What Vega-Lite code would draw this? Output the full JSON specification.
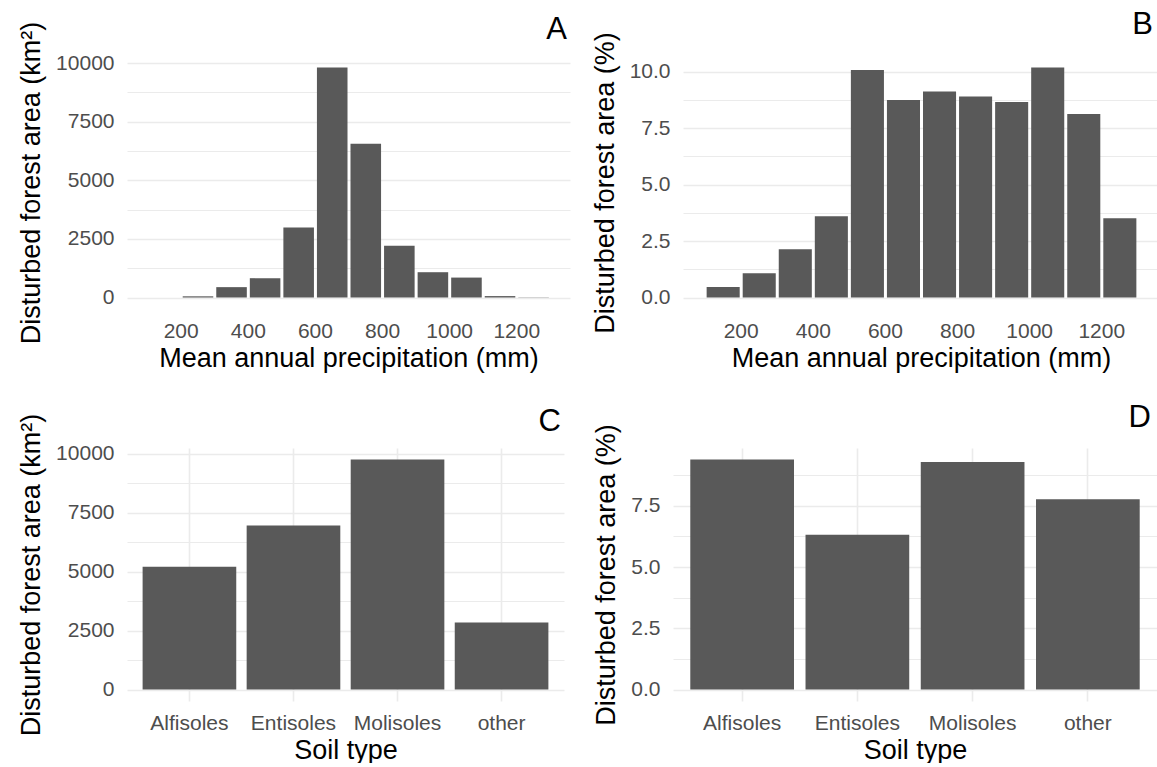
{
  "$schema": "https://vega.github.io/schema/vega-lite/v6.json",
  "padding": {"left": 17, "top": 8, "right": 0, "bottom": 0},
  "background": "#ffffff",
  "datasets": {
    "prec": [
      {"start": 100, "end": 200, "km2": 0, "pct": 0.46},
      {"start": 200, "end": 300, "km2": 50, "pct": 1.07},
      {"start": 300, "end": 400, "km2": 442, "pct": 2.14},
      {"start": 400, "end": 500, "km2": 824, "pct": 3.6},
      {"start": 500, "end": 600, "km2": 2990, "pct": 10.07},
      {"start": 600, "end": 700, "km2": 9813, "pct": 8.74},
      {"start": 700, "end": 800, "km2": 6559, "pct": 9.12},
      {"start": 800, "end": 900, "km2": 2209, "pct": 8.9},
      {"start": 900, "end": 1000, "km2": 1079, "pct": 8.65},
      {"start": 1000, "end": 1100, "km2": 850, "pct": 10.18},
      {"start": 1100, "end": 1200, "km2": 60, "pct": 8.12},
      {"start": 1200, "end": 1300, "km2": 10, "pct": 3.51}
    ],
    "soil": [
      {"soil": "Alfisoles", "km2": 5207, "pct": 9.39},
      {"soil": "Entisoles", "km2": 6955, "pct": 6.32},
      {"soil": "Molisoles", "km2": 9755, "pct": 9.29},
      {"soil": "other", "km2": 2842, "pct": 7.77}
    ]
  },
  "config": {
    "view": {"stroke": null},
    "font": "Liberation Sans",
    "axis": {
      "domain": false,
      "ticks": false,
      "tickSize": 0,
      "labelColor": "#4D4D4D",
      "labelFontSize": 21,
      "titleFontSize": 27,
      "titleFontWeight": "normal",
      "titleColor": "#000000",
      "gridColor": "#EBEBEB",
      "labelPadding": 13,
      "labelFlush": false,
      "labelOverlap": false
    },
    "axisX": {"titlePadding": 4, "labelPadding": 11},
    "axisY": {"titlePadding": 10},
    "title": {"fontSize": 31, "fontWeight": "normal", "color": "#000000", "anchor": "end", "frame": "group", "baseline": "alphabetic"}
  },
  "spacing": 30,
  "vconcat": [
    {
      "spacing": 21,
      "hconcat": [
        {
          "width": 443, "height": 253,
          "title": {"text": "A", "offset": -25, "dx": -3},
          "data": {"name": "prec"},
          "mark": {"type": "bar", "color": "#595959", "binSpacing": 3},
          "encoding": {
            "x": {"field": "start", "type": "quantitative", "bin": "binned",
              "scale": {"domain": [40, 1360], "nice": false, "zero": false},
              "axis": {"title": "Mean annual precipitation (mm)", "values": [100, 200, 300, 400, 500, 600, 700, 800, 900, 1000, 1100, 1200, 1300],
                "format": "d", "labelExpr": "datum.value % 200 == 0 ? datum.label : ''",
                "gridWidth": {"condition": {"test": "datum.value % 200 == 0", "value": 1.6}, "value": 1.1}}},
            "x2": {"field": "end"},
            "y": {"field": "km2", "type": "quantitative",
              "scale": {"domain": [-490.65, 10303.65], "nice": false, "zero": false},
              "axis": {"title": "Disturbed forest area (km²)", "values": [0, 1250, 2500, 3750, 5000, 6250, 7500, 8750, 10000],
                "format": "d", "labelExpr": "datum.value % 2500 == 0 ? datum.label : ''",
                "gridWidth": {"condition": {"test": "datum.value % 2500 == 0", "value": 1.6}, "value": 1.1}}},
            "y2": {"datum": 0}
          }
        },
        {
          "width": 476, "height": 253,
          "title": {"text": "B", "offset": -9, "dx": -6},
          "data": {"name": "prec"},
          "mark": {"type": "bar", "color": "#595959", "binSpacing": 3},
          "encoding": {
            "x": {"field": "start", "type": "quantitative", "bin": "binned",
              "scale": {"domain": [40, 1360], "nice": false, "zero": false},
              "axis": {"title": "Mean annual precipitation (mm)", "values": [100, 200, 300, 400, 500, 600, 700, 800, 900, 1000, 1100, 1200, 1300],
                "format": "d", "labelExpr": "datum.value % 200 == 0 ? datum.label : ''",
                "gridWidth": {"condition": {"test": "datum.value % 200 == 0", "value": 1.6}, "value": 1.1}}},
            "x2": {"field": "end"},
            "y": {"field": "pct", "type": "quantitative",
              "scale": {"domain": [-0.509, 10.689], "nice": false, "zero": false},
              "axis": {"title": "Disturbed forest area (%)", "values": [0, 1.25, 2.5, 3.75, 5, 6.25, 7.5, 8.75, 10],
                "format": ".1f", "labelExpr": "datum.value % 2.5 == 0 ? datum.label : ''",
                "gridWidth": {"condition": {"test": "datum.value % 2.5 == 0", "value": 1.6}, "value": 1.1}}},
            "y2": {"datum": 0}
          }
        }
      ]
    },
    {
      "spacing": 28,
      "hconcat": [
        {
          "width": 437, "height": 253,
          "title": {"text": "C", "offset": -25, "dx": -3},
          "data": {"name": "soil"},
          "mark": {"type": "bar", "color": "#595959"},
          "encoding": {
            "x": {"field": "soil", "type": "nominal", "sort": null,
              "scale": {"paddingInner": 0.1, "paddingOuter": 0.15},
              "axis": {"title": "Soil type", "labelAngle": 0, "grid": true, "gridWidth": 1.6}},
            "y": {"field": "km2", "type": "quantitative",
              "scale": {"domain": [-487.75, 10242.75], "nice": false, "zero": false},
              "axis": {"title": "Disturbed forest area (km²)", "values": [0, 1250, 2500, 3750, 5000, 6250, 7500, 8750, 10000],
                "format": "d", "labelExpr": "datum.value % 2500 == 0 ? datum.label : ''",
                "gridWidth": {"condition": {"test": "datum.value % 2500 == 0", "value": 1.6}, "value": 1.1}}},
            "y2": {"datum": 0}
          }
        },
        {
          "width": 484, "height": 253,
          "title": {"text": "D", "offset": -10, "dx": -6},
          "data": {"name": "soil"},
          "mark": {"type": "bar", "color": "#595959"},
          "encoding": {
            "x": {"field": "soil", "type": "nominal", "sort": null,
              "scale": {"paddingInner": 0.1, "paddingOuter": 0.15},
              "axis": {"title": "Soil type", "labelAngle": 0, "grid": true, "gridWidth": 1.6}},
            "y": {"field": "pct", "type": "quantitative",
              "scale": {"domain": [-0.4695, 9.8595], "nice": false, "zero": false},
              "axis": {"title": "Disturbed forest area (%)", "values": [0, 1.25, 2.5, 3.75, 5, 6.25, 7.5, 8.75],
                "format": ".1f", "labelExpr": "datum.value % 2.5 == 0 ? datum.label : ''",
                "gridWidth": {"condition": {"test": "datum.value % 2.5 == 0", "value": 1.6}, "value": 1.1}}},
            "y2": {"datum": 0}
          }
        }
      ]
    }
  ]
}
